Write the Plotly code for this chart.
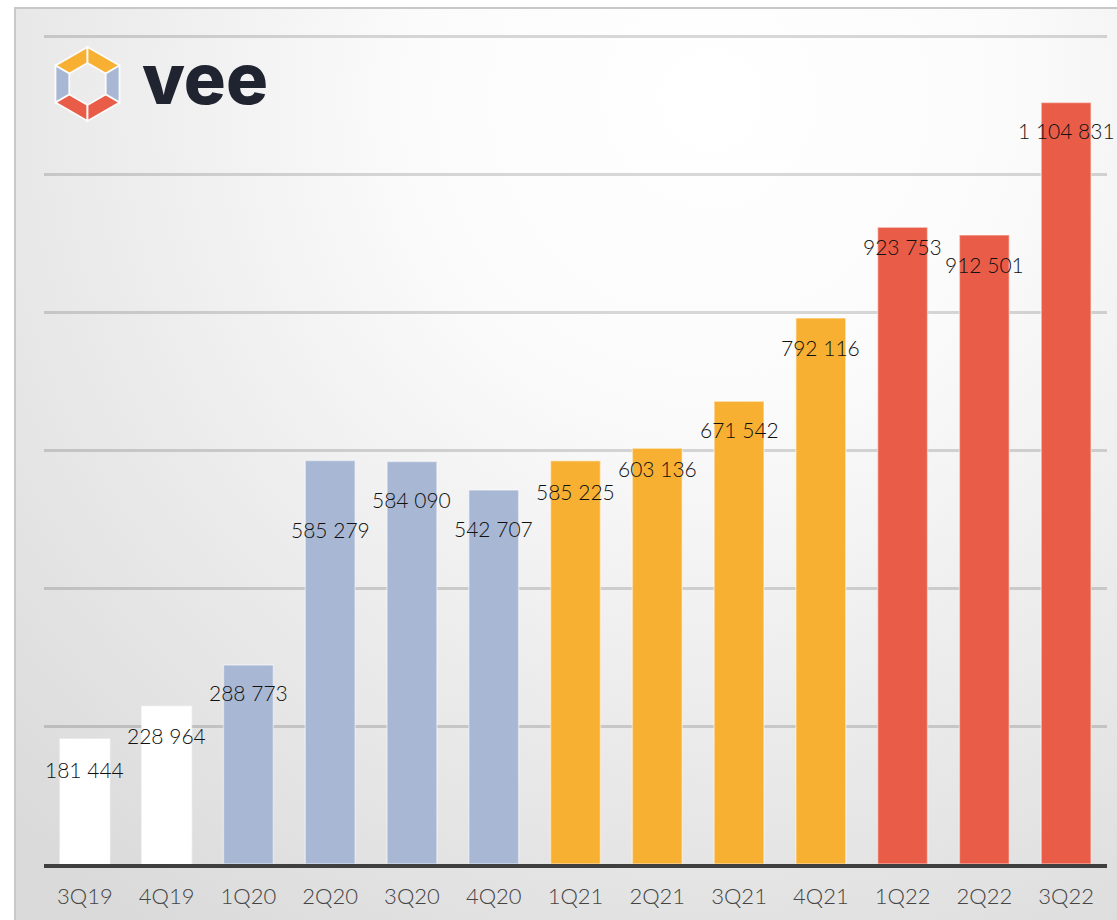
import plotly.graph_objects as go
import base64
import math

# ---- data ----
quarters = ["3Q19", "4Q19", "1Q20", "2Q20", "3Q20", "4Q20",
            "1Q21", "2Q21", "3Q21", "4Q21", "1Q22", "2Q22", "3Q22"]
values = [181444, 228964, 288773, 585279, 584090, 542707,
          585225, 603136, 671542, 792116, 923753, 912501, 1104831]
labels = ["181 444", "228 964", "288 773", "585 279", "584 090", "542 707",
          "585 225", "603 136", "671 542", "792 116", "923 753", "912 501", "1 104 831"]
groups = ["2019", "2019", "2020", "2020", "2020", "2020",
          "2021", "2021", "2021", "2021", "2022", "2022", "2022"]
grid_values = [200000, 400000, 600000, 800000, 1000000, 1200000]

# ---- styles ----
group_colors = {"2019": "#FFFFFF", "2020": "#A8B8D4", "2021": "#F7B032", "2022": "#E95C47"}
label_drop = [31, 29, 28, 69, 38, 39, 31, 20, 28, 29, 19, 29, 28]  # px below bar top
FONT = "Lato, DejaVu Sans Condensed, sans-serif"

W, H = 1117, 920
ML, MR, MT, MB = 44, 10, 30, 56
PW, PH = W - ML - MR, H - MT - MB

def hex_pt(cx, cy, r, ang):
    a = math.radians(ang)
    return cx + r * math.cos(a), cy - r * math.sin(a)

cx, cy, Ro, Ri = 87.5, 84, 37, 21
seg_cols = {(90, 150): "#F7B032", (30, 90): "#F7B032", (150, 210): "#A8B8D4",
            (-30, 30): "#A8B8D4", (210, 270): "#E95C47", (270, 330): "#E95C47"}
paths = ""
for (a0, a1), col in seg_cols.items():
    p = [hex_pt(cx, cy, Ro, a0), hex_pt(cx, cy, Ro, a1), hex_pt(cx, cy, Ri, a1), hex_pt(cx, cy, Ri, a0)]
    d = "M" + " L".join(f"{x:.2f},{y:.2f}" for x, y in p) + " Z"
    paths += f'<path d="{d}" fill="{col}" stroke="#fbfbfb" stroke-width="1.8" stroke-linejoin="miter"/>'

svg = f'''<svg xmlns="http://www.w3.org/2000/svg" width="{W}" height="{H}" viewBox="0 0 {W} {H}">
<defs><radialGradient id="g" gradientUnits="userSpaceOnUse" cx="710" cy="100" r="1000">
<stop offset="0" stop-color="#ffffff"/><stop offset="0.3" stop-color="#fbfbfb"/>
<stop offset="0.65" stop-color="#eaeaea"/><stop offset="1" stop-color="#dadada"/></radialGradient></defs>
<rect x="0" y="0" width="{W}" height="{H}" fill="#ffffff"/>
<rect x="15" y="8" width="{W+20}" height="{H+20}" fill="url(#g)" stroke="#c8c8c8" stroke-width="2"/>
{paths}
</svg>'''
src = "data:image/svg+xml;base64," + base64.b64encode(svg.encode()).decode()

fig = go.Figure()
fig.add_trace(go.Bar(
    x=quarters, y=values,
    marker=dict(color=[group_colors[g] for g in groups],
                line=dict(color="rgba(255,255,255,0.45)", width=1.5)),
    width=0.61, hoverinfo="x+y",
))

for q, v, t, d in zip(quarters, values, labels, label_drop):
    fig.add_annotation(x=q, y=v, text=t, showarrow=False, xanchor="center", yanchor="middle",
                       yshift=-d, font=dict(family=FONT, size=21, color="#111111", weight=300))

fig.add_annotation(xref="paper", yref="paper", x=(140 - ML) / PW, y=1 + (MT - 79) / PH,
                   text="vee", showarrow=False, xanchor="left", yanchor="middle",
                   font=dict(family="Inter", size=70, color="#1F2430", weight=800))

fig.add_layout_image(dict(source=src, xref="paper", yref="paper",
                          x=-ML / PW, y=1 + MT / PH, sizex=W / PW, sizey=H / PH,
                          xanchor="left", yanchor="top", sizing="stretch", layer="below"))

fig.update_layout(
    width=W, height=H,
    margin=dict(l=ML, r=MR, t=MT, b=MB),
    paper_bgcolor="white", plot_bgcolor="rgba(0,0,0,0)",
    showlegend=False, bargap=0.39,
    xaxis=dict(range=[-0.5, len(quarters) - 0.5], showline=True, linecolor="#3F3F3F",
               linewidth=4, ticks="",
               tickfont=dict(family=FONT, size=22, color="#444444", weight=300),
               ticklabelstandoff=10, showgrid=False, fixedrange=True),
    yaxis=dict(range=[0, 1210000], tickvals=grid_values, showticklabels=False,
               gridcolor="rgba(0,0,0,0.15)", gridwidth=2.5, zeroline=False, fixedrange=True),
)

fig.write_html("out.html", config={"displayModeBar": False},
               post_script="document.body.style.margin='0';document.body.style.overflow='hidden';")
